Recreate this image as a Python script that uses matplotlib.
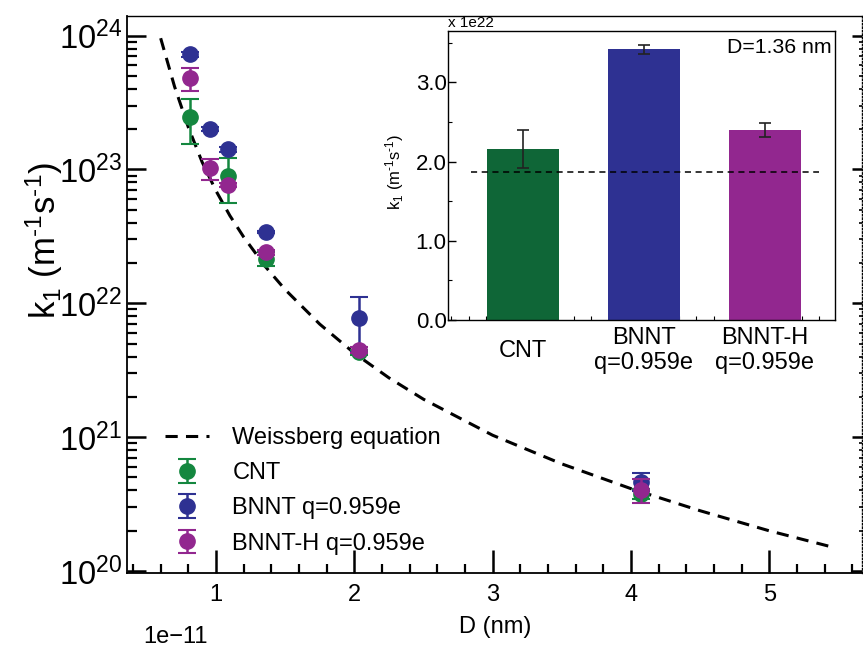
import numpy as np
import matplotlib
matplotlib.use('Agg')
import matplotlib.pyplot as plt
from matplotlib.ticker import FixedLocator, NullFormatter, LogLocator

plt.rcParams['font.family'] = ['Liberation Sans', 'DejaVu Sans']
plt.rcParams['mathtext.fontset'] = 'custom'
plt.rcParams['mathtext.rm'] = 'Liberation Sans'
plt.rcParams['mathtext.it'] = 'Liberation Sans:italic'
plt.rcParams['mathtext.bf'] = 'Liberation Sans:bold'

# Weissberg curve (log10 of k1)
weiss_D = [0.6, 0.7, 0.8, 0.9, 1.0, 1.1, 1.2, 1.36, 1.5, 1.75, 2.0, 2.25, 2.5,
           3.0, 3.5, 4.0, 4.5, 5.0, 5.45]
weiss_log = [23.98, 23.62, 23.315, 23.054, 22.84, 22.655, 22.495, 22.27, 22.102,
             21.844, 21.627, 21.443, 21.283, 21.014, 20.80, 20.615, 20.45, 20.30, 20.18]

# simulation points
cnt_D = [0.81, 1.085, 1.36, 2.035, 4.07]
cnt_k = [2.45e23, 8.93e22, 2.157e22, 4.31e21, 3.77e20]
cnt_err = [0.9e23, 3.3e22, 0.245e22, 0.2e21, 0.3e20]

bnnt_D = [0.81, 0.955, 1.085, 1.36, 2.035, 4.07]
bnnt_k = [7.24e23, 2.0e23, 1.41e23, 3.416e22, 7.73e21, 4.66e20]
bnnt_err = [0.3e23, 0.08e23, 0.06e23, 0.057e22, 3.4e21, 0.7e20]

bnnth_D = [0.81, 0.955, 1.085, 1.36, 2.035, 4.07]
bnnth_k = [4.79e23, 1.02e23, 7.64e22, 2.396e22, 4.48e21, 4.04e20]
bnnth_err = [0.93e23, 0.18e23, 0.3e22, 0.084e22, 0.2e21, 0.84e20]

# inset (D = 1.36 nm), units of 1e22
bar_labels = ['CNT', 'BNNT\nq=0.959e', 'BNNT-H\nq=0.959e']
bar_vals = [2.157, 3.416, 2.396]
bar_errs = [0.245, 0.057, 0.084]
weiss_136 = 1.863

green = '#14873f'
blue = '#2e3192'
purple = '#92278f'
bar_colors = ['#0f6637', '#2e3192', '#92278f']

unit_lbl = 'k$_1$ (m$^{\u2010 1}$s$^{\u2010 1}$)'

fig = plt.figure(figsize=(8.63, 6.5), dpi=100)
ax = fig.add_axes([0.1477, 0.1189, 0.8511, 0.8565])

ax.plot(weiss_D, 10 ** np.array(weiss_log), color='black', lw=2.2,
        linestyle=(0, (4, 2.7)), label='Weissberg equation', zorder=2)
ax.errorbar(cnt_D, cnt_k, yerr=cnt_err, fmt='o', color=green, ms=11, elinewidth=1.8,
            capsize=6.5, capthick=1.5, label='CNT', zorder=3)
ax.errorbar(bnnt_D, bnnt_k, yerr=bnnt_err, fmt='o', color=blue, ms=11, elinewidth=1.8,
            capsize=6.5, capthick=1.5, label='BNNT q=0.959e', zorder=3)
ax.errorbar(bnnth_D, bnnth_k, yerr=bnnth_err, fmt='o', color=purple, ms=11, elinewidth=1.8,
            capsize=6.5, capthick=1.5, label='BNNT-H q=0.959e', zorder=4)

ax.set_yscale('log')
ax.set_xlim(0.36, 5.67)
ax.set_ylim(10 ** 19.987, 10 ** 24.146)
ax.set_xticks([1, 2, 3, 4, 5])
ax.set_xticks(np.arange(0.4, 5.7, 0.2), minor=True)
ax.yaxis.set_major_locator(LogLocator(base=10, numticks=10))
ax.yaxis.set_minor_locator(LogLocator(base=10, subs=np.arange(2, 10), numticks=10))
ax.yaxis.set_minor_formatter(NullFormatter())
ax.tick_params(axis='x', which='major', direction='in', length=16.5, width=1.8,
               labelsize=17, pad=8)
ax.tick_params(axis='x', which='minor', direction='in', length=6.5, width=1.6)
ax.tick_params(axis='y', which='major', direction='in', length=13.5, width=1.8,
               labelsize=23.5, pad=4)
ax.tick_params(axis='y', which='minor', direction='in', length=7, width=1.6)
for s in ['left', 'bottom']:
    ax.spines[s].set_linewidth(1.3)
ax.spines['top'].set_linewidth(1.0)
ax.spines['right'].set_visible(False)

axr = ax.twinx()
axr.set_yscale('log')
axr.set_ylim(ax.get_ylim())
axr.yaxis.set_major_locator(LogLocator(base=10, numticks=10))
axr.yaxis.set_minor_locator(LogLocator(base=10, subs=np.arange(2, 10), numticks=10))
axr.yaxis.set_major_formatter(NullFormatter())
axr.yaxis.set_minor_formatter(NullFormatter())
axr.tick_params(axis='y', which='major', direction='in', length=7.5, width=1.8)
axr.tick_params(axis='y', which='minor', direction='in', length=2, width=1.2)
for s in ['left', 'bottom', 'top']:
    axr.spines[s].set_visible(False)
axr.spines['right'].set_linewidth(1.0)
axr.spines['right'].set_linestyle((0, (1, 1.5)))

ax.set_xlabel('D (nm)', fontsize=17, labelpad=7)
fig.text(44 / 863, 1 - 240 / 650, unit_lbl, fontsize=25,
         rotation=90, ha='center', va='center')
fig.text(143 / 863, 1 - 637 / 650, '1e\u221211', fontsize=17, ha='left', va='center')

ax.legend(loc='upper left', bbox_to_anchor=(165 / 863, 1 - 427 / 650),
          bbox_transform=fig.transFigure, frameon=False, fontsize=17,
          handlelength=1.85, handletextpad=1.0, labelspacing=0.56,
          borderpad=0, borderaxespad=0)

# inset
ax2 = fig.add_axes([448 / 863, 1 - 320 / 650, 387 / 863, 289 / 650])
pos = np.arange(len(bar_vals))
ax2.bar(pos, bar_vals, width=0.59, color=bar_colors, zorder=2)
ax2.errorbar(pos, bar_vals, yerr=bar_errs, fmt='none', ecolor='#222222', elinewidth=1.2,
             capsize=4, capthick=1.2, zorder=3)
ax2.plot([-0.43, 2.45], [weiss_136, weiss_136], color='black', lw=1.1,
         linestyle=(0, (4, 3)), zorder=4)
ax2.set_xlim(-0.62, 2.58)
ax2.set_ylim(0, 3.647)
ax2.set_xticks(pos)
ax2.set_xticklabels(bar_labels, fontsize=17, va='center')
ax2.xaxis.set_minor_locator(FixedLocator(1 + 0.1448 * np.arange(-11, 11)))
ax2.set_yticks([0, 1, 2, 3])
ax2.set_yticklabels(['0.0', '1.0', '2.0', '3.0'], fontsize=16)
ax2.set_yticks([0.5, 1.5, 2.5, 3.5], minor=True)
ax2.tick_params(axis='x', which='major', direction='in', length=6, width=1.0, pad=22)
ax2.tick_params(axis='x', which='minor', direction='in', length=3, width=0.8)
ax2.tick_params(axis='y', which='major', direction='in', length=6, width=1.0, pad=1)
ax2.tick_params(axis='y', which='minor', direction='in', length=3, width=0.8)
for s in ax2.spines.values():
    s.set_linewidth(1.0)
ax2.text(0.99, 0.975, 'D=1.36 nm', transform=ax2.transAxes, ha='right', va='top',
         fontsize=15.3)
fig.text(448 / 863, 1 - 23 / 650, 'x 1e22', fontsize=11, ha='left', va='center')
fig.text(395 / 863, 1 - 172 / 650, unit_lbl, fontsize=12,
         rotation=90, ha='center', va='center')

fig.savefig('out.png', dpi=100)
